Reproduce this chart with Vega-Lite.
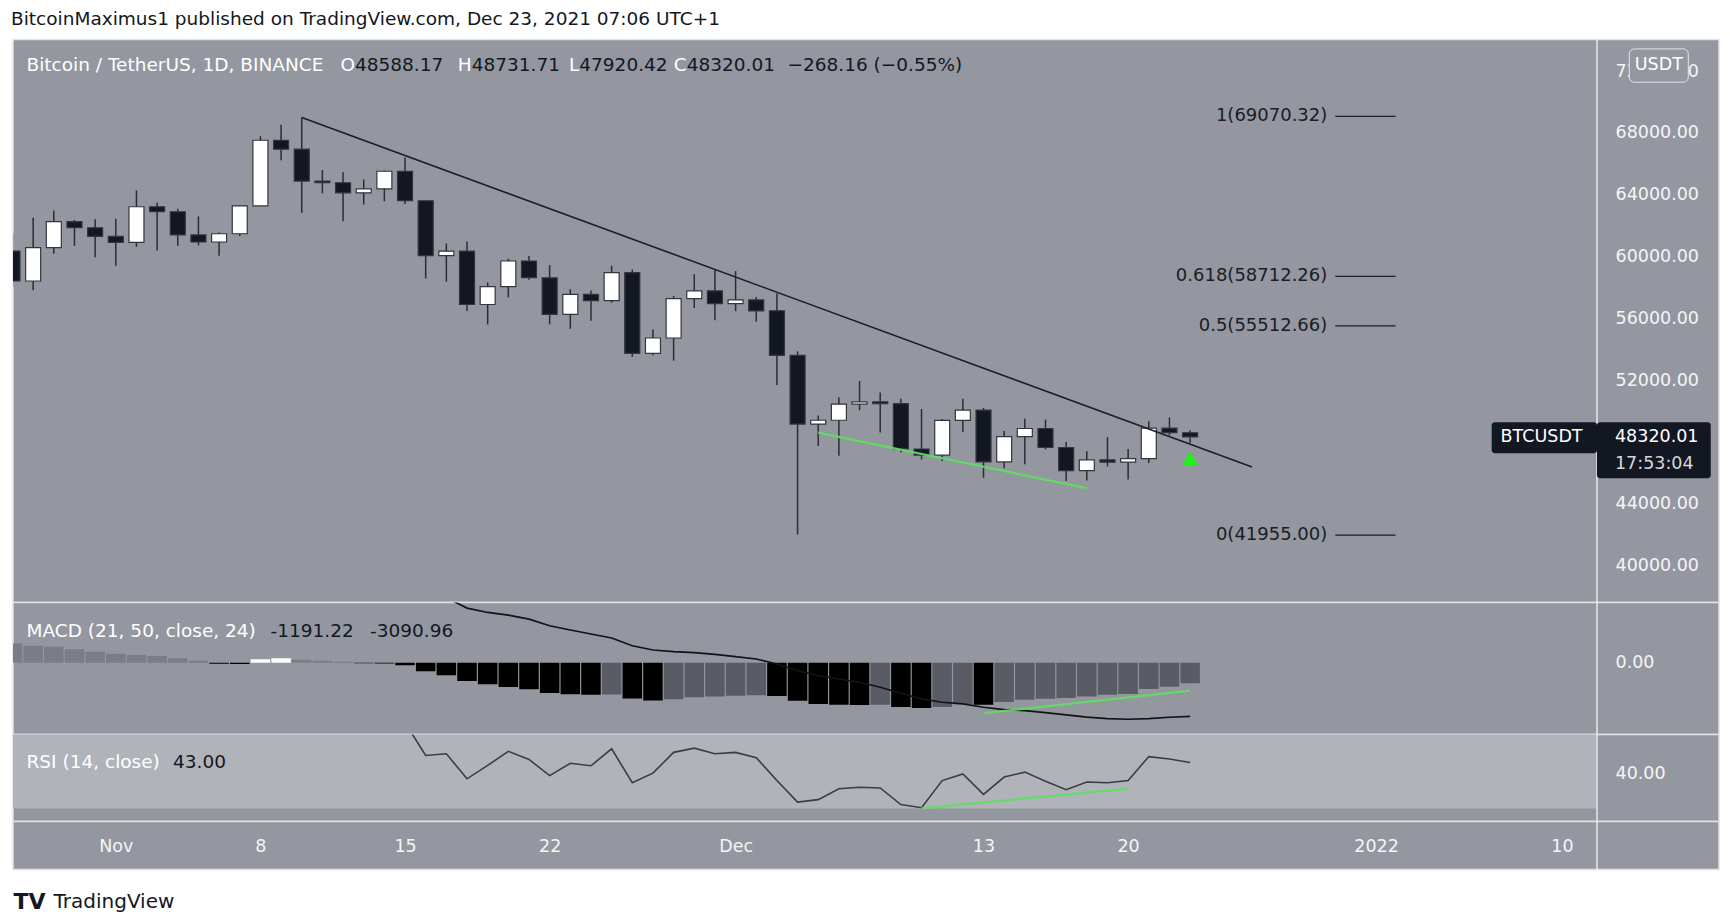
{
  "$schema": "https://vega.github.io/schema/vega-lite/v6.json",
  "background": "#ffffff",
  "padding": {"left": 11, "top": 9.5, "right": 0, "bottom": 0},
  "title": {"text": "BitcoinMaximus1 published on TradingView.com, Dec 23, 2021 07:06 UTC+1", "anchor": "start", "frame": "group", "font": "DejaVu Sans", "fontSize": 18.5, "fontWeight": "normal", "color": "#131722", "offset": -5.8, "dx": -2, "baseline": "alphabetic"},
  "config": {
    "view": {"fill": "#94979f", "stroke": "#e1e3e7", "strokeWidth": 1.5},
    "font": "DejaVu Sans",
    "text": {"font": "DejaVu Sans"}
  },
  "datasets": {
    "candles": [
      {"date": "2021-10-27", "open": 60352, "high": 61496, "low": 58000, "close": 58413},
      {"date": "2021-10-28", "open": 58413, "high": 62499, "low": 57820, "close": 60575},
      {"date": "2021-10-29", "open": 60575, "high": 62980, "low": 60174, "close": 62253},
      {"date": "2021-10-30", "open": 62253, "high": 62359, "low": 60673, "close": 61859},
      {"date": "2021-10-31", "open": 61859, "high": 62405, "low": 59945, "close": 61300},
      {"date": "2021-11-01", "open": 61300, "high": 62437, "low": 59405, "close": 60912},
      {"date": "2021-11-02", "open": 60912, "high": 64270, "low": 60625, "close": 63220},
      {"date": "2021-11-03", "open": 63220, "high": 63500, "low": 60382, "close": 62896},
      {"date": "2021-11-04", "open": 62896, "high": 63086, "low": 60677, "close": 61395},
      {"date": "2021-11-05", "open": 61395, "high": 62595, "low": 60721, "close": 60937},
      {"date": "2021-11-06", "open": 60937, "high": 61560, "low": 60050, "close": 61470},
      {"date": "2021-11-07", "open": 61470, "high": 63286, "low": 61322, "close": 63273},
      {"date": "2021-11-08", "open": 63273, "high": 67789, "low": 63273, "close": 67525},
      {"date": "2021-11-09", "open": 67525, "high": 68524, "low": 66222, "close": 66947},
      {"date": "2021-11-10", "open": 66947, "high": 69000, "low": 62822, "close": 64882},
      {"date": "2021-11-11", "open": 64882, "high": 65600, "low": 64100, "close": 64774},
      {"date": "2021-11-12", "open": 64774, "high": 65450, "low": 62278, "close": 64122},
      {"date": "2021-11-13", "open": 64122, "high": 64988, "low": 63360, "close": 64380},
      {"date": "2021-11-14", "open": 64380, "high": 65550, "low": 63577, "close": 65519},
      {"date": "2021-11-15", "open": 65519, "high": 66401, "low": 63400, "close": 63606},
      {"date": "2021-11-16", "open": 63606, "high": 63617, "low": 58574, "close": 60058},
      {"date": "2021-11-17", "open": 60058, "high": 60840, "low": 58373, "close": 60344},
      {"date": "2021-11-18", "open": 60344, "high": 60976, "low": 56474, "close": 56891},
      {"date": "2021-11-19", "open": 56891, "high": 58320, "low": 55600, "close": 58052},
      {"date": "2021-11-20", "open": 58052, "high": 59846, "low": 57353, "close": 59707},
      {"date": "2021-11-21", "open": 59707, "high": 60030, "low": 58486, "close": 58623},
      {"date": "2021-11-22", "open": 58617, "high": 59444, "low": 55610, "close": 56247},
      {"date": "2021-11-23", "open": 56247, "high": 57875, "low": 55317, "close": 57541},
      {"date": "2021-11-24", "open": 57541, "high": 57804, "low": 55837, "close": 57138},
      {"date": "2021-11-25", "open": 57138, "high": 59398, "low": 57000, "close": 58960},
      {"date": "2021-11-26", "open": 58960, "high": 59150, "low": 53500, "close": 53727},
      {"date": "2021-11-27", "open": 53727, "high": 55280, "low": 53610, "close": 54721},
      {"date": "2021-11-28", "open": 54721, "high": 57445, "low": 53256, "close": 57274},
      {"date": "2021-11-29", "open": 57274, "high": 58865, "low": 56666, "close": 57776},
      {"date": "2021-11-30", "open": 57776, "high": 59176, "low": 55875, "close": 56951},
      {"date": "2021-12-01", "open": 56951, "high": 59053, "low": 56459, "close": 57184},
      {"date": "2021-12-02", "open": 57184, "high": 57375, "low": 55777, "close": 56480},
      {"date": "2021-12-03", "open": 56485, "high": 57600, "low": 51680, "close": 53601},
      {"date": "2021-12-04", "open": 53601, "high": 53859, "low": 42000, "close": 49152},
      {"date": "2021-12-05", "open": 49152, "high": 49699, "low": 47727, "close": 49397},
      {"date": "2021-12-06", "open": 49397, "high": 50891, "low": 47100, "close": 50441},
      {"date": "2021-12-07", "open": 50441, "high": 51936, "low": 50039, "close": 50588},
      {"date": "2021-12-08", "open": 50588, "high": 51200, "low": 48600, "close": 50471},
      {"date": "2021-12-09", "open": 50471, "high": 50797, "low": 47320, "close": 47545},
      {"date": "2021-12-10", "open": 47535, "high": 50125, "low": 46852, "close": 47140},
      {"date": "2021-12-11", "open": 47140, "high": 49485, "low": 46751, "close": 49389},
      {"date": "2021-12-12", "open": 49389, "high": 50797, "low": 48638, "close": 50053},
      {"date": "2021-12-13", "open": 50053, "high": 50189, "low": 45672, "close": 46702},
      {"date": "2021-12-14", "open": 46702, "high": 48700, "low": 46290, "close": 48343},
      {"date": "2021-12-15", "open": 48336, "high": 49500, "low": 46547, "close": 48864},
      {"date": "2021-12-16", "open": 48864, "high": 49436, "low": 47511, "close": 47632},
      {"date": "2021-12-17", "open": 47632, "high": 47995, "low": 45456, "close": 46131},
      {"date": "2021-12-18", "open": 46133, "high": 47392, "low": 45500, "close": 46834},
      {"date": "2021-12-19", "open": 46834, "high": 48300, "low": 46406, "close": 46681},
      {"date": "2021-12-20", "open": 46681, "high": 47537, "low": 45558, "close": 46914},
      {"date": "2021-12-21", "open": 46914, "high": 49328, "low": 46630, "close": 48889},
      {"date": "2021-12-22", "open": 48887, "high": 49576, "low": 48421, "close": 48588},
      {"date": "2021-12-23", "open": 48588.17, "high": 48731.71, "low": 47920.42, "close": 48320.01}
    ],
    "ohlc": [{"open": 48588.17, "high": 48731.71, "low": 47920.42, "close": 48320.01, "change": "\u2212268.16 (\u22120.55%)"}],
    "trend": [
      {"date": "2021-11-10", "price": 69000},
      {"date": "2021-12-26", "price": 46370}
    ],
    "greenMain": [
      {"date": "2021-12-05", "price": 48600},
      {"date": "2021-12-18", "price": 45000}
    ],
    "signal": [{"date": "2021-12-23", "price": 46900}],
    "fib": [
      {"level": "1", "price": 69070.32, "label": "1(69070.32)"},
      {"level": "0.618", "price": 58712.26, "label": "0.618(58712.26)"},
      {"level": "0.5", "price": 55512.66, "label": "0.5(55512.66)"},
      {"level": "0", "price": 41955.00, "label": "0(41955.00)"}
    ],
    "macd": [
      {"date": "2021-10-27", "hist": 1110, "dir": "pos_fall", "macd": null},
      {"date": "2021-10-28", "hist": 977, "dir": "pos_fall", "macd": null},
      {"date": "2021-10-29", "hist": 920, "dir": "pos_fall", "macd": null},
      {"date": "2021-10-30", "hist": 766, "dir": "pos_fall", "macd": null},
      {"date": "2021-10-31", "hist": 632, "dir": "pos_fall", "macd": null},
      {"date": "2021-11-01", "hist": 517, "dir": "pos_fall", "macd": null},
      {"date": "2021-11-02", "hist": 441, "dir": "pos_fall", "macd": null},
      {"date": "2021-11-03", "hist": 383, "dir": "pos_fall", "macd": null},
      {"date": "2021-11-04", "hist": 249, "dir": "pos_fall", "macd": null},
      {"date": "2021-11-05", "hist": 115, "dir": "pos_fall", "macd": null},
      {"date": "2021-11-06", "hist": -60, "dir": "neg_fall", "macd": null},
      {"date": "2021-11-07", "hist": -70, "dir": "neg_fall", "macd": null},
      {"date": "2021-11-08", "hist": 190, "dir": "pos_rise", "macd": null},
      {"date": "2021-11-09", "hist": 249, "dir": "pos_rise", "macd": null},
      {"date": "2021-11-10", "hist": 170, "dir": "pos_fall", "macd": null},
      {"date": "2021-11-11", "hist": 115, "dir": "pos_fall", "macd": null},
      {"date": "2021-11-12", "hist": 57, "dir": "pos_fall", "macd": null},
      {"date": "2021-11-13", "hist": -40, "dir": "neg_fall", "macd": null},
      {"date": "2021-11-14", "hist": -55, "dir": "neg_fall", "macd": null},
      {"date": "2021-11-15", "hist": -150, "dir": "neg_fall", "macd": 4400},
      {"date": "2021-11-16", "hist": -500, "dir": "neg_fall", "macd": 4100},
      {"date": "2021-11-17", "hist": -730, "dir": "neg_fall", "macd": 3747},
      {"date": "2021-11-18", "hist": -1050, "dir": "neg_fall", "macd": 3145},
      {"date": "2021-11-19", "hist": -1245, "dir": "neg_fall", "macd": 2893},
      {"date": "2021-11-20", "hist": -1400, "dir": "neg_fall", "macd": 2742},
      {"date": "2021-11-21", "hist": -1530, "dir": "neg_fall", "macd": 2512},
      {"date": "2021-11-22", "hist": -1745, "dir": "neg_fall", "macd": 2127},
      {"date": "2021-11-23", "hist": -1820, "dir": "neg_fall", "macd": 1880},
      {"date": "2021-11-24", "hist": -1850, "dir": "neg_fall", "macd": 1650},
      {"date": "2021-11-25", "hist": -1830, "dir": "neg_rise", "macd": 1420},
      {"date": "2021-11-26", "hist": -2070, "dir": "neg_fall", "macd": 977},
      {"date": "2021-11-27", "hist": -2185, "dir": "neg_fall", "macd": 730},
      {"date": "2021-11-28", "hist": -2110, "dir": "neg_rise", "macd": 632},
      {"date": "2021-11-29", "hist": -1990, "dir": "neg_rise", "macd": 575},
      {"date": "2021-11-30", "hist": -1955, "dir": "neg_rise", "macd": 479},
      {"date": "2021-12-01", "hist": -1900, "dir": "neg_rise", "macd": 345},
      {"date": "2021-12-02", "hist": -1880, "dir": "neg_rise", "macd": 211},
      {"date": "2021-12-03", "hist": -1920, "dir": "neg_fall", "macd": -77},
      {"date": "2021-12-04", "hist": -2190, "dir": "neg_fall", "macd": -460},
      {"date": "2021-12-05", "hist": -2380, "dir": "neg_fall", "macd": -748},
      {"date": "2021-12-06", "hist": -2420, "dir": "neg_fall", "macd": -940},
      {"date": "2021-12-07", "hist": -2440, "dir": "neg_fall", "macd": -1130},
      {"date": "2021-12-08", "hist": -2420, "dir": "neg_rise", "macd": -1418},
      {"date": "2021-12-09", "hist": -2560, "dir": "neg_fall", "macd": -1763},
      {"date": "2021-12-10", "hist": -2620, "dir": "neg_fall", "macd": -2090},
      {"date": "2021-12-11", "hist": -2550, "dir": "neg_rise", "macd": -2280},
      {"date": "2021-12-12", "hist": -2400, "dir": "neg_rise", "macd": -2375},
      {"date": "2021-12-13", "hist": -2420, "dir": "neg_fall", "macd": -2568},
      {"date": "2021-12-14", "hist": -2260, "dir": "neg_rise", "macd": -2702},
      {"date": "2021-12-15", "hist": -2140, "dir": "neg_rise", "macd": -2760},
      {"date": "2021-12-16", "hist": -2080, "dir": "neg_rise", "macd": -2875},
      {"date": "2021-12-17", "hist": -2040, "dir": "neg_rise", "macd": -3010},
      {"date": "2021-12-18", "hist": -1950, "dir": "neg_rise", "macd": -3144},
      {"date": "2021-12-19", "hist": -1850, "dir": "neg_rise", "macd": -3220},
      {"date": "2021-12-20", "hist": -1810, "dir": "neg_rise", "macd": -3260},
      {"date": "2021-12-21", "hist": -1520, "dir": "neg_rise", "macd": -3220},
      {"date": "2021-12-22", "hist": -1390, "dir": "neg_rise", "macd": -3145},
      {"date": "2021-12-23", "hist": -1191.22, "dir": "neg_rise", "macd": -3090.96}
    ],
    "greenMacd": [
      {"date": "2021-12-13", "value": -2915},
      {"date": "2021-12-23", "value": -1610}
    ],
    "rsi": [
      {"date": "2021-11-14", "rsi": 60.0},
      {"date": "2021-11-15", "rsi": 54.3},
      {"date": "2021-11-16", "rsi": 45.0},
      {"date": "2021-11-17", "rsi": 45.5},
      {"date": "2021-11-18", "rsi": 38.4},
      {"date": "2021-11-19", "rsi": 42.2},
      {"date": "2021-11-20", "rsi": 46.2},
      {"date": "2021-11-21", "rsi": 43.9},
      {"date": "2021-11-22", "rsi": 39.3},
      {"date": "2021-11-23", "rsi": 42.8},
      {"date": "2021-11-24", "rsi": 42.1},
      {"date": "2021-11-25", "rsi": 46.9},
      {"date": "2021-11-26", "rsi": 37.3},
      {"date": "2021-11-27", "rsi": 40.0},
      {"date": "2021-11-28", "rsi": 45.9},
      {"date": "2021-11-29", "rsi": 47.1},
      {"date": "2021-11-30", "rsi": 45.5},
      {"date": "2021-12-01", "rsi": 45.9},
      {"date": "2021-12-02", "rsi": 44.4},
      {"date": "2021-12-03", "rsi": 37.9},
      {"date": "2021-12-04", "rsi": 31.8},
      {"date": "2021-12-05", "rsi": 32.5},
      {"date": "2021-12-06", "rsi": 35.6},
      {"date": "2021-12-07", "rsi": 36.0},
      {"date": "2021-12-08", "rsi": 35.8},
      {"date": "2021-12-09", "rsi": 31.1},
      {"date": "2021-12-10", "rsi": 30.2},
      {"date": "2021-12-11", "rsi": 37.9},
      {"date": "2021-12-12", "rsi": 39.8},
      {"date": "2021-12-13", "rsi": 34.0},
      {"date": "2021-12-14", "rsi": 38.9},
      {"date": "2021-12-15", "rsi": 40.3},
      {"date": "2021-12-16", "rsi": 37.7},
      {"date": "2021-12-17", "rsi": 35.3},
      {"date": "2021-12-18", "rsi": 37.5},
      {"date": "2021-12-19", "rsi": 37.3},
      {"date": "2021-12-20", "rsi": 37.9},
      {"date": "2021-12-21", "rsi": 44.7},
      {"date": "2021-12-22", "rsi": 44.0},
      {"date": "2021-12-23", "rsi": 43.0}
    ],
    "greenRsi": [
      {"date": "2021-12-10", "value": 30.0},
      {"date": "2021-12-20", "value": 35.6}
    ],
    "one": [{}]
  },
  "vconcat": [
    {
      "width": 1706,
      "height": 563,
      "layer": [
        {
          "data": {"name": "candles"},
          "mark": {"type": "rule", "color": "#2a2d35", "strokeWidth": 1.5, "clip": true},
          "encoding": {
            "x": {"field": "date", "type": "temporal", "axis": null,
                  "scale": {"type": "utc", "padding": 0, "domain": [{"year": 2021, "month": 10, "date": 27, "hours": 0, "minutes": 35, "utc": true}, {"year": 2022, "month": 1, "date": 17, "hours": 14, "minutes": 24, "utc": true}]}},
            "y": {"field": "low", "type": "quantitative",
                  "scale": {"domain": [37598, 74047], "zero": false, "nice": false, "padding": 0},
                  "axis": {"orient": "right", "values": [40000, 44000, 48000, 52000, 56000, 60000, 64000, 68000, 72000], "format": ".2f", "labelPadding": -104, "tickSize": 0, "ticks": false, "domain": false, "grid": false, "title": null, "labelAlign": "left", "labelBaseline": "middle", "labelFontSize": 17.5, "labelColor": "#f4f5f7", "labelFont": "DejaVu Sans"}},
            "y2": {"field": "high"}
          }
        },
        {
          "data": {"name": "candles"},
          "mark": {"type": "bar", "size": 15, "stroke": "#33363e", "strokeWidth": 1.2, "clip": true},
          "encoding": {
            "x": {"field": "date", "type": "temporal"},
            "y": {"field": "open", "type": "quantitative"},
            "y2": {"field": "close"},
            "fill": {"condition": {"test": "datum.close >= datum.open", "value": "#ffffff"}, "value": "#131722"}
          }
        },
        {
          "data": {"name": "trend"},
          "mark": {"type": "line", "color": "#1c1f27", "strokeWidth": 1.6},
          "encoding": {
            "x": {"field": "date", "type": "temporal"},
            "y": {"field": "price", "type": "quantitative"}
          }
        },
        {
          "data": {"name": "greenMain"},
          "mark": {"type": "line", "color": "#5ee05e", "strokeWidth": 2.2, "opacity": 0.9},
          "encoding": {
            "x": {"field": "date", "type": "temporal"},
            "y": {"field": "price", "type": "quantitative"}
          }
        },
        {
          "data": {"name": "signal"},
          "mark": {"type": "point", "shape": "triangle-up", "filled": true, "color": "#1cf21c", "size": 280, "opacity": 1},
          "encoding": {
            "x": {"field": "date", "type": "temporal"},
            "y": {"field": "price", "type": "quantitative"}
          }
        },
        {
          "data": {"name": "fib"},
          "mark": {"type": "rule", "color": "#1c1f27", "strokeWidth": 1.3},
          "encoding": {
            "x": {"datum": {"year": 2021, "month": 12, "date": 30, "hours": 0, "minutes": 42, "utc": true}, "type": "temporal"},
            "x2": {"datum": {"year": 2022, "month": 1, "date": 1, "hours": 22, "minutes": 34, "utc": true}},
            "y": {"field": "price", "type": "quantitative"}
          }
        },
        {
          "data": {"name": "fib"},
          "mark": {"type": "text", "align": "right", "baseline": "middle", "fontSize": 18, "color": "#1a1d25"},
          "encoding": {
            "x": {"datum": {"year": 2021, "month": 12, "date": 29, "hours": 15, "minutes": 22, "utc": true}, "type": "temporal"},
            "y": {"field": "price", "type": "quantitative"},
            "text": {"field": "label"}
          }
        },
        {
          "data": {"name": "one"},
          "mark": {"type": "rule", "color": "#e8e9ec", "strokeWidth": 1.5},
          "encoding": {
            "x": {"datum": {"year": 2022, "month": 1, "date": 11, "hours": 16, "minutes": 40, "utc": true}, "type": "temporal"}
          }
        },
        {
          "data": {"name": "ohlc"},
          "mark": {"type": "rect", "color": "#131722", "cornerRadius": 3},
          "encoding": {
            "x": {"datum": {"year": 2022, "month": 1, "date": 6, "hours": 14, "minutes": 20, "utc": true}, "type": "temporal"},
            "x2": {"datum": {"year": 2022, "month": 1, "date": 11, "hours": 16, "minutes": 40, "utc": true}},
            "y": {"datum": 49270, "type": "quantitative"},
            "y2": {"datum": 47263}
          }
        },
        {
          "data": {"name": "ohlc"},
          "mark": {"type": "rect", "color": "#131722", "cornerRadius": 3},
          "encoding": {
            "x": {"datum": {"year": 2022, "month": 1, "date": 11, "hours": 16, "minutes": 40, "utc": true}, "type": "temporal"},
            "x2": {"datum": {"year": 2022, "month": 1, "date": 17, "hours": 4, "minutes": 48, "utc": true}},
            "y": {"datum": 49270, "type": "quantitative"},
            "y2": {"datum": 45645}
          }
        },
        {
          "data": {"name": "ohlc"},
          "mark": {"type": "text", "align": "left", "baseline": "middle", "fontSize": 17.5, "color": "#ffffff"},
          "encoding": {
            "x": {"datum": {"year": 2022, "month": 1, "date": 7, "hours": 0, "minutes": 40, "utc": true}, "type": "temporal"},
            "y": {"field": "close", "type": "quantitative"},
            "text": {"value": "BTCUSDT"}
          }
        },
        {
          "data": {"name": "ohlc"},
          "mark": {"type": "text", "align": "left", "baseline": "middle", "fontSize": 17.5, "color": "#ffffff"},
          "encoding": {
            "x": {"datum": {"year": 2022, "month": 1, "date": 12, "hours": 13, "minutes": 34, "utc": true}, "type": "temporal"},
            "y": {"field": "close", "type": "quantitative"},
            "text": {"field": "close", "format": ".2f"}
          }
        },
        {
          "data": {"name": "ohlc"},
          "mark": {"type": "text", "align": "left", "baseline": "middle", "fontSize": 17.5, "color": "#d5d7dc"},
          "encoding": {
            "x": {"datum": {"year": 2022, "month": 1, "date": 12, "hours": 13, "minutes": 34, "utc": true}, "type": "temporal"},
            "y": {"datum": 46576, "type": "quantitative"},
            "text": {"value": "17:53:04"}
          }
        },
        {
          "data": {"name": "one"},
          "mark": {"type": "rect", "fill": "#94979f", "stroke": "#e4e5e9", "strokeWidth": 1, "cornerRadius": 5},
          "encoding": {
            "x": {"datum": {"year": 2022, "month": 1, "date": 13, "hours": 6, "minutes": 11, "utc": true}, "type": "temporal"},
            "x2": {"datum": {"year": 2022, "month": 1, "date": 16, "hours": 2, "minutes": 44, "utc": true}},
            "y": {"datum": 73438, "type": "quantitative"},
            "y2": {"datum": 71282}
          }
        },
        {
          "data": {"name": "one"},
          "mark": {"type": "text", "align": "center", "baseline": "middle", "fontSize": 17.5, "color": "#ffffff"},
          "encoding": {
            "x": {"datum": {"year": 2022, "month": 1, "date": 14, "hours": 16, "minutes": 28, "utc": true}, "type": "temporal"},
            "y": {"datum": 72364, "type": "quantitative"},
            "text": {"value": "USDT"}
          }
        },
        {
          "data": {"name": "one"},
          "mark": {"type": "text", "align": "left", "baseline": "middle", "fontSize": 18.5, "color": "#ffffff"},
          "encoding": {
            "x": {"datum": {"year": 2021, "month": 10, "date": 27, "hours": 16, "minutes": 16, "utc": true}, "type": "temporal"},
            "y": {"datum": 72364, "type": "quantitative"},
            "text": {"value": "Bitcoin / TetherUS, 1D, BINANCE"}
          }
        },
        {
          "data": {"name": "one"},
          "mark": {"type": "text", "align": "right", "baseline": "middle", "fontSize": 18.5, "color": "#ffffff"},
          "encoding": {
            "x": {"datum": {"year": 2021, "month": 11, "date": 12, "hours": 13, "minutes": 52, "utc": true}, "type": "temporal"},
            "y": {"datum": 72364, "type": "quantitative"},
            "text": {"value": "O"}
          }
        },
        {
          "data": {"name": "ohlc"},
          "mark": {"type": "text", "align": "left", "baseline": "middle", "fontSize": 18.5, "color": "#131722"},
          "encoding": {
            "x": {"datum": {"year": 2021, "month": 11, "date": 12, "hours": 13, "minutes": 52, "utc": true}, "type": "temporal"},
            "y": {"datum": 72364, "type": "quantitative"},
            "text": {"field": "open", "format": ".2f"}
          }
        },
        {
          "data": {"name": "one"},
          "mark": {"type": "text", "align": "right", "baseline": "middle", "fontSize": 18.5, "color": "#ffffff"},
          "encoding": {
            "x": {"datum": {"year": 2021, "month": 11, "date": 18, "hours": 5, "minutes": 25, "utc": true}, "type": "temporal"},
            "y": {"datum": 72364, "type": "quantitative"},
            "text": {"value": "H"}
          }
        },
        {
          "data": {"name": "ohlc"},
          "mark": {"type": "text", "align": "left", "baseline": "middle", "fontSize": 18.5, "color": "#131722"},
          "encoding": {
            "x": {"datum": {"year": 2021, "month": 11, "date": 18, "hours": 5, "minutes": 25, "utc": true}, "type": "temporal"},
            "y": {"datum": 72364, "type": "quantitative"},
            "text": {"field": "high", "format": ".2f"}
          }
        },
        {
          "data": {"name": "one"},
          "mark": {"type": "text", "align": "right", "baseline": "middle", "fontSize": 18.5, "color": "#ffffff"},
          "encoding": {
            "x": {"datum": {"year": 2021, "month": 11, "date": 23, "hours": 10, "minutes": 26, "utc": true}, "type": "temporal"},
            "y": {"datum": 72364, "type": "quantitative"},
            "text": {"value": "L"}
          }
        },
        {
          "data": {"name": "ohlc"},
          "mark": {"type": "text", "align": "left", "baseline": "middle", "fontSize": 18.5, "color": "#131722"},
          "encoding": {
            "x": {"datum": {"year": 2021, "month": 11, "date": 23, "hours": 10, "minutes": 26, "utc": true}, "type": "temporal"},
            "y": {"datum": 72364, "type": "quantitative"},
            "text": {"field": "low", "format": ".2f"}
          }
        },
        {
          "data": {"name": "one"},
          "mark": {"type": "text", "align": "right", "baseline": "middle", "fontSize": 18.5, "color": "#ffffff"},
          "encoding": {
            "x": {"datum": {"year": 2021, "month": 11, "date": 28, "hours": 15, "minutes": 12, "utc": true}, "type": "temporal"},
            "y": {"datum": 72364, "type": "quantitative"},
            "text": {"value": "C"}
          }
        },
        {
          "data": {"name": "ohlc"},
          "mark": {"type": "text", "align": "left", "baseline": "middle", "fontSize": 18.5, "color": "#131722"},
          "encoding": {
            "x": {"datum": {"year": 2021, "month": 11, "date": 28, "hours": 15, "minutes": 12, "utc": true}, "type": "temporal"},
            "y": {"datum": 72364, "type": "quantitative"},
            "text": {"field": "close", "format": ".2f"}
          }
        },
        {
          "data": {"name": "ohlc"},
          "mark": {"type": "text", "align": "left", "baseline": "middle", "fontSize": 18.5, "color": "#131722"},
          "encoding": {
            "x": {"datum": {"year": 2021, "month": 12, "date": 3, "hours": 12, "minutes": 15, "utc": true}, "type": "temporal"},
            "y": {"datum": 72364, "type": "quantitative"},
            "text": {"field": "change"}
          }
        }
      ]
    },
    {
      "width": 1706,
      "height": 132,
      "layer": [
        {
          "data": {"name": "macd"},
          "mark": {"type": "bar", "size": 19.5, "clip": true},
          "encoding": {
            "x": {"field": "date", "type": "temporal", "axis": null,
                  "scale": {"type": "utc", "padding": 0, "domain": [{"year": 2021, "month": 10, "date": 27, "hours": 0, "minutes": 35, "utc": true}, {"year": 2022, "month": 1, "date": 17, "hours": 14, "minutes": 24, "utc": true}]}},
            "y": {"field": "hist", "type": "quantitative",
                  "scale": {"domain": [-4140, 3467], "zero": false, "nice": false, "padding": 0},
                  "axis": {"orient": "right", "values": [0], "format": ".2f", "labelPadding": -104, "tickSize": 0, "ticks": false, "domain": false, "grid": false, "title": null, "labelAlign": "left", "labelBaseline": "middle", "labelFontSize": 17.5, "labelColor": "#f4f5f7", "labelFont": "DejaVu Sans"}},
            "y2": {"datum": 0},
            "color": {"field": "dir", "type": "nominal", "legend": null,
                      "scale": {"domain": ["pos_rise", "pos_fall", "neg_fall", "neg_rise"], "range": ["#ffffff", "#7a7d86", "#000000", "#595c64"]}}
          }
        },
        {
          "data": {"name": "macd"},
          "mark": {"type": "line", "color": "#111317", "strokeWidth": 1.7, "clip": true},
          "encoding": {
            "x": {"field": "date", "type": "temporal"},
            "y": {"field": "macd", "type": "quantitative"}
          }
        },
        {
          "data": {"name": "greenMacd"},
          "mark": {"type": "line", "color": "#5ee05e", "strokeWidth": 2.2, "opacity": 0.9},
          "encoding": {
            "x": {"field": "date", "type": "temporal"},
            "y": {"field": "value", "type": "quantitative"}
          }
        },
        {
          "data": {"name": "one"},
          "mark": {"type": "rule", "color": "#e8e9ec", "strokeWidth": 1.5},
          "encoding": {
            "x": {"datum": {"year": 2022, "month": 1, "date": 11, "hours": 16, "minutes": 40, "utc": true}, "type": "temporal"}
          }
        },
        {
          "data": {"name": "one"},
          "mark": {"type": "text", "align": "left", "baseline": "middle", "fontSize": 18.5, "color": "#ffffff"},
          "encoding": {
            "x": {"datum": {"year": 2021, "month": 10, "date": 27, "hours": 16, "minutes": 16, "utc": true}, "type": "temporal"},
            "y": {"datum": 1800, "type": "quantitative"},
            "text": {"value": "MACD (21, 50, close, 24)"}
          }
        },
        {
          "data": {"name": "one"},
          "mark": {"type": "text", "align": "left", "baseline": "middle", "fontSize": 18.5, "color": "#131722"},
          "encoding": {
            "x": {"datum": {"year": 2021, "month": 11, "date": 8, "hours": 11, "minutes": 43, "utc": true}, "type": "temporal"},
            "y": {"datum": 1800, "type": "quantitative"},
            "text": {"value": "-1191.22"}
          }
        },
        {
          "data": {"name": "one"},
          "mark": {"type": "text", "align": "left", "baseline": "middle", "fontSize": 18.5, "color": "#131722"},
          "encoding": {
            "x": {"datum": {"year": 2021, "month": 11, "date": 13, "hours": 7, "minutes": 18, "utc": true}, "type": "temporal"},
            "y": {"datum": 1800, "type": "quantitative"},
            "text": {"value": "-3090.96"}
          }
        }
      ]
    },
    {
      "width": 1706,
      "height": 87,
      "layer": [
        {
          "data": {"name": "one"},
          "mark": {"type": "rect", "color": "#b0b3ba", "clip": true},
          "encoding": {
            "x": {"datum": {"year": 2021, "month": 10, "date": 27, "hours": 0, "minutes": 35, "utc": true}, "type": "temporal", "axis": null,
                  "scale": {"type": "utc", "padding": 0, "domain": [{"year": 2021, "month": 10, "date": 27, "hours": 0, "minutes": 35, "utc": true}, {"year": 2022, "month": 1, "date": 17, "hours": 14, "minutes": 24, "utc": true}]}},
            "x2": {"datum": {"year": 2022, "month": 1, "date": 11, "hours": 16, "minutes": 40, "utc": true}},
            "y": {"datum": 30, "type": "quantitative",
                  "scale": {"domain": [26.3, 50.96], "zero": false, "nice": false, "padding": 0},
                  "axis": {"orient": "right", "values": [40], "format": ".2f", "labelPadding": -104, "tickSize": 0, "ticks": false, "domain": false, "grid": false, "title": null, "labelAlign": "left", "labelBaseline": "middle", "labelFontSize": 17.5, "labelColor": "#f4f5f7", "labelFont": "DejaVu Sans"}},
            "y2": {"datum": 70}
          }
        },
        {
          "data": {"name": "rsi"},
          "mark": {"type": "line", "color": "#3a3d44", "strokeWidth": 1.6, "clip": true},
          "encoding": {
            "x": {"field": "date", "type": "temporal"},
            "y": {"field": "rsi", "type": "quantitative"}
          }
        },
        {
          "data": {"name": "greenRsi"},
          "mark": {"type": "line", "color": "#5ee05e", "strokeWidth": 2.2, "opacity": 0.9},
          "encoding": {
            "x": {"field": "date", "type": "temporal"},
            "y": {"field": "value", "type": "quantitative"}
          }
        },
        {
          "data": {"name": "one"},
          "mark": {"type": "rule", "color": "#e8e9ec", "strokeWidth": 1.5},
          "encoding": {
            "x": {"datum": {"year": 2022, "month": 1, "date": 11, "hours": 16, "minutes": 40, "utc": true}, "type": "temporal"}
          }
        },
        {
          "data": {"name": "one"},
          "mark": {"type": "text", "align": "left", "baseline": "middle", "fontSize": 18.5, "color": "#ffffff"},
          "encoding": {
            "x": {"datum": {"year": 2021, "month": 10, "date": 27, "hours": 16, "minutes": 16, "utc": true}, "type": "temporal"},
            "y": {"datum": 43.1, "type": "quantitative"},
            "text": {"value": "RSI (14, close)"}
          }
        },
        {
          "data": {"name": "one"},
          "mark": {"type": "text", "align": "left", "baseline": "middle", "fontSize": 18.5, "color": "#131722"},
          "encoding": {
            "x": {"datum": {"year": 2021, "month": 11, "date": 3, "hours": 18, "minutes": 27, "utc": true}, "type": "temporal"},
            "y": {"datum": 43.1, "type": "quantitative"},
            "text": {"value": "43.00"}
          }
        }
      ]
    },
    {
      "width": 1706,
      "height": 48,
      "data": {"name": "one"},
      "mark": {"type": "rule", "color": "#e8e9ec", "strokeWidth": 1.5},
      "encoding": {
        "x": {"datum": {"year": 2022, "month": 1, "date": 11, "hours": 16, "minutes": 40, "utc": true}, "type": "temporal",
              "scale": {"type": "utc", "padding": 0, "domain": [{"year": 2021, "month": 10, "date": 27, "hours": 0, "minutes": 35, "utc": true}, {"year": 2022, "month": 1, "date": 17, "hours": 14, "minutes": 24, "utc": true}]},
              "axis": {"orient": "bottom",
                       "values": [{"year": 2021, "month": 11, "date": 1, "utc": true}, {"year": 2021, "month": 11, "date": 8, "utc": true}, {"year": 2021, "month": 11, "date": 15, "utc": true}, {"year": 2021, "month": 11, "date": 22, "utc": true}, {"year": 2021, "month": 12, "date": 1, "utc": true}, {"year": 2021, "month": 12, "date": 13, "utc": true}, {"year": 2021, "month": 12, "date": 20, "utc": true}, {"year": 2022, "month": 1, "date": 1, "utc": true}, {"year": 2022, "month": 1, "date": 10, "utc": true}],
                       "labelExpr": "utcdate(datum.value) == 1 ? (utcmonth(datum.value) == 0 ? utcFormat(datum.value, '%Y') : utcFormat(datum.value, '%b')) : utcFormat(datum.value, '%-d')",
                       "labelPadding": -23, "tickSize": 0, "ticks": false, "domain": false, "grid": false,
                       "labelAlign": "center", "labelBaseline": "middle", "labelOverlap": false, "labelFlush": false,
                       "labelFontSize": 17.5, "labelColor": "#f4f5f7", "labelFont": "DejaVu Sans",
                       "title": "TradingView", "titleX": 40, "titleY": 32, "titleAlign": "left", "titleBaseline": "middle", "titleAnchor": "start",
                       "titleFontSize": 20, "titleFont": "DejaVu Sans", "titleFontWeight": "normal", "titleColor": "#131722"}},
        "y": {"datum": 0, "type": "quantitative", "scale": {"domain": [0, 1]},
              "axis": {"orient": "left", "labels": false, "ticks": false, "domain": false, "grid": false,
                       "title": "TV", "titleAngle": 0, "titleX": 0, "titleY": 80, "titleAlign": "left", "titleBaseline": "middle",
                       "titleFontSize": 22, "titleFont": "DejaVu Sans", "titleFontWeight": 900, "titleColor": "#131722"}},
        "y2": {"datum": 1}
      }
    }
  ],
  "spacing": 0,
  "bounds": "flush",
  "resolve": {"scale": {"x": "independent", "y": "independent"}}
}
